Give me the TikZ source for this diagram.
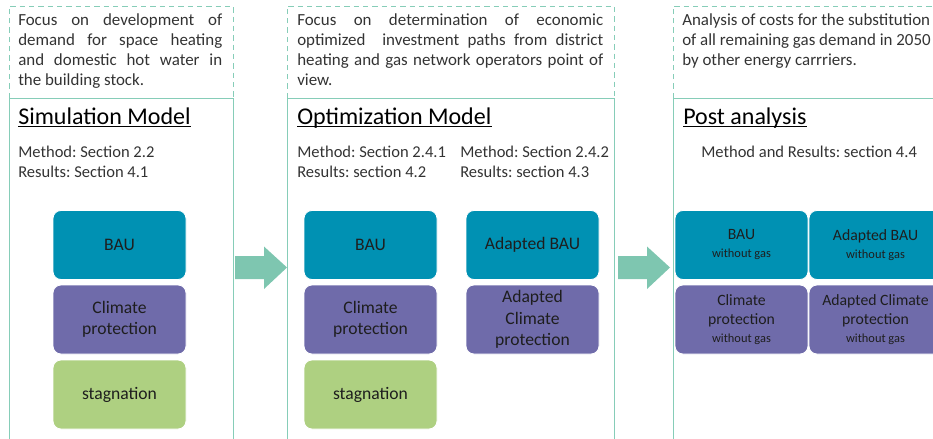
\documentclass[tikz,border=0pt]{standalone}
\usepackage{fontspec}
\setmainfont{Carlito}
\frenchspacing
\definecolor{panelline}{HTML}{86CDB8}
\definecolor{arrowfill}{HTML}{7EC6B0}
\definecolor{bau}{HTML}{0091B3}
\definecolor{climate}{HTML}{6F6BAA}
\definecolor{stag}{HTML}{AED081}
\definecolor{bodytext}{HTML}{333333}
\definecolor{boxtext}{HTML}{1E1E1E}
\newcommand{\nogas}{{\fontsize{9.3}{11}\selectfont without gas}}
\begin{document}
\begin{tikzpicture}[x=0.75pt,y=-0.75pt,
  every node/.style={inner sep=0pt},
  desc/.style={anchor=base west,text=bodytext,font=\fontsize{12.7}{15}\selectfont},
  title/.style={anchor=base west,font=\fontsize{18}{20}\selectfont},
  method/.style={anchor=base west,align=left,text=bodytext,font=\fontsize{12.4}{15}\selectfont},
  scen/.style={rounded corners=6pt,draw=white,line width=0.6pt,minimum width=99.75pt,
    minimum height=51.75pt,align=center,text=boxtext,font=\fontsize{13.2}{16}\selectfont},
  post/.style={scen,font=\fontsize{11.8}{14.5}\selectfont}]
\useasboundingbox (0,0) rectangle (933,439);
\foreach \l/\r in {9/233, 287/614, 673/950}{
  \draw[panelline,dash pattern=on 4pt off 3pt] (\l,98) -- (\l,6) -- (\r,6) -- (\r,98);
  \draw[panelline] (\l,445) -- (\l,98) -- (\r,98) -- (\r,445);
}
\foreach \a in {235, 618}
  \fill[arrowfill] (\a,256) -- ++(29,0) -- ++(0,-9.5) -- ++(23,21) -- ++(-23,21.5)
    -- ++(0,-10) -- ++(-29,0) -- cycle;
\node[desc,text width=153pt,align=justify] (sdesc) at (18,26)
  {Focus on development of\linebreak demand for space heating\linebreak
   and domestic hot water in\linebreak the building stock.};
\node[desc,text width=229.5pt,align=justify] (odesc) at (297,26)
  {Focus on determination of economic\linebreak optimized\ \ investment paths from district\linebreak
   heating and gas network operators point of\linebreak view.};
\node[desc,align=left] (pdesc) at (682,65)
  {Analysis of costs for the substitution\\of all remaining gas demand in 2050\\by other energy carrriers.};
\node[title] (stitle) at (18,124) {Simulation Model};
\node[title] (otitle) at (297,124) {Optimization Model};
\node[title] (ptitle) at (683,124) {Post analysis};
\foreach \t in {stitle, otitle, ptitle}
  \draw[line width=0.8pt] ([yshift=-2pt]\t.base west) -- ([yshift=-2pt]\t.base east);
\node[method] (smeth) at (18,177) {Method: Section 2.2\\Results: Section 4.1};
\node[method] (ometh) at (297,177) {Method: Section 2.4.1\\Results: section 4.2};
\node[method] (ometh2) at (460,177) {Method: Section 2.4.2\\Results: section 4.3};
\node[method] (pmeth) at (701,157) {Method and Results: section 4.4};
\foreach \x/\n in {119.5/s, 370.5/o}{
  \node[scen,fill=bau] (\n1) at (\x,245) {BAU};
  \node[scen,fill=climate] (\n2) at (\x,319.5) {Climate\\protection};
  \node[scen,fill=stag] (\n3) at (\x,394.5) {stagnation};
}
\node[scen,fill=bau] (a1) at (532.5,245) {Adapted BAU};
\node[scen,fill=climate] (a2) at (532.5,319.5) {Adapted\\Climate\\protection};
\node[post,fill=bau] (p1) at (741.5,245) {BAU\\[-1pt]\nogas};
\node[post,fill=bau] (p2) at (875.5,245) {Adapted BAU\\[-1pt]\nogas};
\node[post,fill=climate] (p3) at (741.5,319.5) {Climate\\protection\\[-1pt]\nogas};
\node[post,fill=climate] (p4) at (875.5,319.5) {Adapted Climate\\protection\\[-1pt]\nogas};
\end{tikzpicture}
\end{document}
